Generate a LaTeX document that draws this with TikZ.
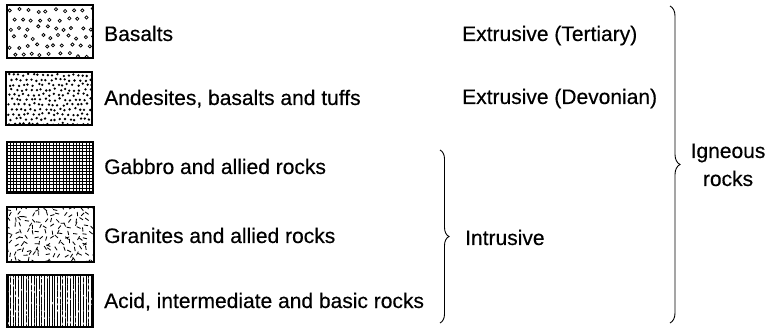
\documentclass[tikz,border=0pt]{standalone}
\usepackage{fontspec}
\setmainfont[FakeBold=0.4]{Liberation Sans}
\usetikzlibrary{decorations.pathreplacing}
\begin{document}
\begin{tikzpicture}[x=1pt,y=-1pt,
  swatch/.style={draw, line width=1.1pt},
  lbl/.style={anchor=base west, inner sep=0pt, font=\fontsize{21}{24}\selectfont},
  ilbl/.style={anchor=base, inner sep=0pt, font=\fontsize{21}{24}\selectfont},
  brc/.style={decorate, decoration={brace, amplitude=9pt}, line width=0.9pt}]
\useasboundingbox (0,0) rectangle (767,328);
\pgfmathsetseed{7}
% swatch 1: open circles
\begin{scope}
\clip (7,5) rectangle (93,58);
\foreach \j in {0,...,5} { \foreach \i in {0,...,9} {
  \pgfmathsetmacro\px{10 + \i*9 + mod(\j,2)*4.5 + 2.5*rand}
  \pgfmathsetmacro\py{10 + \j*9 + 2*rand}
  \draw[line width=0.75pt] (\px,\py) circle[radius=1.6pt];
}}
\end{scope}
\draw[swatch] (7,5) rectangle (93,58);
% swatch 2: dense dots
\begin{scope}
\clip (6,72) rectangle (92,125);
\foreach \j in {0,...,10} { \foreach \i in {0,...,17} {
  \pgfmathsetmacro\px{9 + \i*4.9 + mod(\j,2)*2.4 + 1.2*rand}
  \pgfmathsetmacro\py{75 + \j*4.9 + 1.2*rand}
  \fill (\px,\py) circle[radius=1.3pt];
}}
\end{scope}
\draw[swatch] (6,72) rectangle (92,125);
% swatch 3: cross-hatch
\begin{scope}
\clip (7,142) rectangle (93,193);
\foreach \k in {0,...,27} {
  \draw[line width=1.0pt] (7+\k*3.3,142) -- (7+\k*3.3,193);
  \draw[line width=1.0pt] (7,142+\k*3.3) -- (93,142+\k*3.3);
}
\end{scope}
\draw[swatch] (7,142) rectangle (93,193);
% swatch 4: short dashes
\begin{scope}
\clip (7,207) rectangle (94,262);
\foreach \j in {0,...,9} { \foreach \i in {0,...,14} {
  \pgfmathsetmacro\px{10 + \i*6 + 1.8*rand}
  \pgfmathsetmacro\py{210 + \j*5.8 + 1.8*rand}
  \pgfmathsetmacro\an{90*rand+90}
  \draw[line width=0.85pt] (\px,\py) -- ++(\an:4.2pt);
}}
\end{scope}
\draw[swatch] (7,207) rectangle (94,262);
% swatch 5: vertical lines
\begin{scope}
\clip (7,275) rectangle (93,327);
\foreach \k in {0,...,33} {
  \draw[line width=0.9pt] (8+\k*2.6,275) -- (8+\k*2.6,327);
}
\foreach \j in {0,...,7} { \foreach \i in {0,...,16} {
  \pgfmathsetmacro\px{9 + \i*5.2 + 1.2*rand}
  \pgfmathsetmacro\py{279 + \j*6.5 + 1.5*rand}
  \draw[white, line width=0.7pt] (\px,\py) -- ++(1.2pt,2.5pt);
}}
\end{scope}
\draw[swatch] (7,275) rectangle (93,327);
% labels
\node[lbl] (basalts) at (104,41) {Basalts};
\node[lbl] (andes) at (104,105) {Andesites, basalts and tuffs};
\node[lbl] (gabbro) at (104,174) {Gabbro and allied rocks};
\node[lbl] (granite) at (104,243) {Granites and allied rocks};
\node[lbl] (acid) at (104,308) {Acid, intermediate and basic rocks};
\node[lbl] (tert) at (462,41) {Extrusive (Tertiary)};
\node[lbl] (devon) at (462,104) {Extrusive (Devonian)};
\node[lbl] (intr) at (465,245) {Intrusive};
\node[ilbl] (ign) at (728,158) {Igneous};
\node[ilbl] (rocks) at (728,186) {rocks};
% braces
\coordinate (ibt) at (440,150);
\coordinate (ibb) at (440,323);
\coordinate (gbt) at (670,6);
\coordinate (gbb) at (670,323);
\draw[brc] (ibt) -- (ibb);
\draw[brc, decoration={amplitude=10pt}] (gbt) -- (gbb);
\end{tikzpicture}
\end{document}
